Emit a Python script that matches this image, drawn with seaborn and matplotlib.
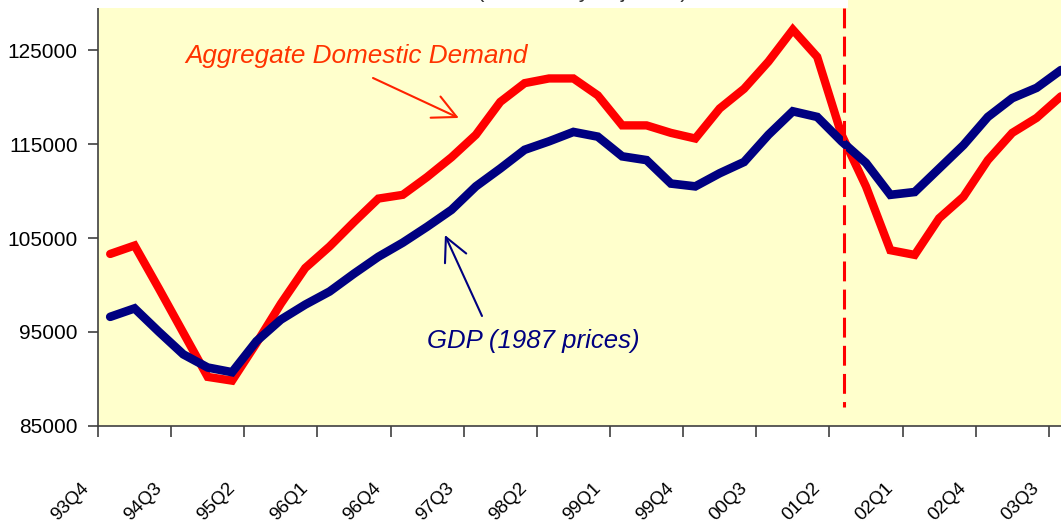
import numpy as np
import pandas as pd
import matplotlib
matplotlib.use("Agg")
import matplotlib.pyplot as plt
import matplotlib.transforms as mtransforms
from matplotlib.patches import Rectangle
import seaborn as sns

# quarterly data, 93Q4 .. 03Q3
quarters = ["93Q4", "94Q1", "94Q2", "94Q3", "94Q4", "95Q1", "95Q2", "95Q3",
            "95Q4", "96Q1", "96Q2", "96Q3", "96Q4", "97Q1", "97Q2", "97Q3",
            "97Q4", "98Q1", "98Q2", "98Q3", "98Q4", "99Q1", "99Q2", "99Q3",
            "99Q4", "00Q1", "00Q2", "00Q3", "00Q4", "01Q1", "01Q2", "01Q3",
            "01Q4", "02Q1", "02Q2", "02Q3", "02Q4", "03Q1", "03Q2", "03Q3"]

domestic_demand = [103300, 104200, 99600, 94900, 90200, 89800, 93800, 98000,
                   101800, 104100, 106700, 109200, 109600, 111500, 113600, 116000,
                   119500, 121500, 122000, 122000, 120200, 117000, 117000, 116200,
                   115600, 118800, 120900, 123800, 127200, 124300, 116000, 110500,
                   103700, 103200, 107100, 109400, 113300, 116200, 117800, 120100]

gdp = [96600, 97500, 95000, 92600, 91200, 90700, 94000, 96300,
       97900, 99300, 101200, 103000, 104500, 106200, 108000, 110500,
       112400, 114400, 115300, 116300, 115800, 113700, 113300, 110800,
       110500, 111900, 113100, 116000, 118500, 117900, 115300, 113000,
       109600, 109900, 112400, 114900, 117900, 119900, 121000, 122900]

y_ticks = [85000, 95000, 105000, 115000, 125000]
event_x = 30.08  # dashed marker just after 01Q2

df = pd.DataFrame({"pos": np.arange(len(quarters)),
                   "ADD": domestic_demand,
                   "GDP": gdp})

sns.set_style("white")
plt.rcParams["font.family"] = ["Liberation Sans", "DejaVu Sans"]

W, H = 1061, 524
fig = plt.figure(figsize=(W / 100, H / 100), dpi=100)
ax = fig.add_axes([98 / W, (H - 425.7) / H, (W - 98) / W, 425.7 / H])
ax.set_facecolor("#FFFFCC")

sns.lineplot(data=df, x="pos", y="ADD", color="#FF0000", lw=6, ax=ax,
             solid_joinstyle="miter")
sns.lineplot(data=df, x="pos", y="GDP", color="#000080", lw=6.2, ax=ax,
             solid_joinstyle="miter")

# vertical dashed marker
ax.plot([event_x, event_x], [129500, 86990], color="#FF0000", lw=2.2,
        linestyle=(0, (6.5, 2.7)))

ax.set_xlim(-0.5, 38.97)
ax.set_ylim(85000, 130360)
ax.set_xlabel("")
ax.set_ylabel("")

# ticks between categories, labels every third quarter
ax.set_xticks(np.arange(-0.5, len(quarters), 3))
ax.set_xticklabels([])
ax.set_xticks(np.arange(0, len(quarters), 3), labels=quarters[::3], minor=True)
ax.tick_params(axis="x", which="major", length=8, width=1.2, direction="out",
               color="#404040", bottom=True)
ax.tick_params(axis="x", which="minor", length=0, pad=43, labelsize=13.5,
               labelrotation=45, bottom=True, labelcolor="black")
offset = mtransforms.ScaledTranslation(-0.24, 0, fig.dpi_scale_trans)
for lab in ax.get_xticklabels(minor=True):
    lab.set_ha("right")
    lab.set_va("center")
    lab.set_rotation_mode("anchor")
    lab.set_transform(lab.get_transform() + offset)

ax.set_yticks(y_ticks)
ax.set_yticklabels([str(v) for v in y_ticks])
ax.tick_params(axis="y", length=7, width=1.2, direction="out", color="#404040",
               pad=7.5, labelsize=15, left=True, labelcolor="black")

for side in ["top", "right"]:
    ax.spines[side].set_visible(False)
for side in ["left", "bottom"]:
    ax.spines[side].set_color("#404040")
    ax.spines[side].set_linewidth(1.2)

# series annotations
ax.text(3.07, 123650, "Aggregate Domestic Demand", color="#FF3300",
        fontsize=18.8, style="italic", ha="left", va="baseline")
ax.annotate("", xy=(14.30, 117790), xytext=(10.78, 122050),
            arrowprops=dict(arrowstyle="->,head_length=0.4,head_width=0.2",
                            color="#FF2200", lw=1.5, mutation_scale=42,
                            shrinkA=0, shrinkB=0))
ax.text(12.99, 93280, "GDP (1987 prices)", color="#000080",
        fontsize=18.5, style="italic", ha="left", va="baseline")
ax.annotate("", xy=(13.73, 105320), xytext=(15.25, 96690),
            arrowprops=dict(arrowstyle="->,head_length=0.4,head_width=0.2",
                            color="#000080", lw=1.5, mutation_scale=42,
                            shrinkA=0, shrinkB=0))

# title box cut off at the top of the picture
fig.patches.append(Rectangle((97 / W, (H - 8) / H), (848 - 97) / W, 8 / H,
                             transform=fig.transFigure, facecolor="white",
                             edgecolor="none", zorder=5))
fig.text(582 / W, 1 + 3 / H, "(seasonally adjusted)", fontsize=16,
         ha="center", va="baseline", color="#333333", zorder=6)

fig.savefig("out.png", dpi=100)
